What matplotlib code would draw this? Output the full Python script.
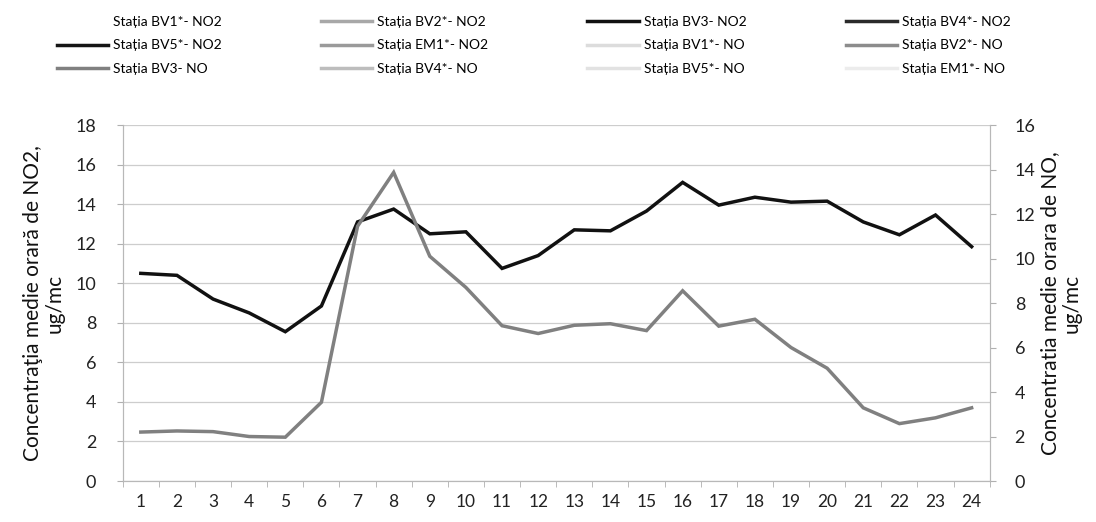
import matplotlib
matplotlib.use("Agg")
import matplotlib.pyplot as plt

plt.rcParams['font.family'] = ['Lato', 'DejaVu Sans']

# ore 1..24
hours = list(range(1, 25))

# Statia BV3 - singura cu date
bv3_no2 = [10.5, 10.4, 9.2, 8.5, 7.55, 8.85, 13.1, 13.75, 12.5, 12.6, 10.75, 11.4,
           12.7, 12.65, 13.65, 15.1, 13.95, 14.35, 14.1, 14.15, 13.1, 12.45, 13.45, 11.85]
bv3_no = [2.2, 2.25, 2.22, 2.0, 1.97, 3.54, 11.45, 13.87, 10.1, 8.7, 6.98, 6.63,
          7.0, 7.07, 6.76, 8.55, 6.96, 7.27, 6.0, 5.07, 3.29, 2.58, 2.84, 3.29]

stations = ['BV1*', 'BV2*', 'BV3', 'BV4*', 'BV5*', 'EM1*']
no2_data = {'BV3': bv3_no2}
no_data = {'BV3': bv3_no}

# culori din legenda (statiile fara date raman doar in legenda)
no2_colors = ['#ffffff', '#a8a8a8', '#111111', '#2a2a2a', '#151515', '#9a9a9a']
no_colors = ['#dcdcdc', '#8c8c8c', '#808080', '#bdbdbd', '#e2e2e2', '#ececec']

fig = plt.figure(figsize=(10.96, 5.22), dpi=100)
ax = fig.add_axes([0.112, 0.0785, 0.791, 0.682])
ax2 = ax.twinx()

handles, labels = [], []
for st, c in zip(stations, no2_colors):
    vals = no2_data.get(st, [])
    h, = ax.plot(hours[:len(vals)], vals, color=c, lw=2.5, solid_joinstyle='miter')
    handles.append(h)
    labels.append(f'Stația {st}- NO2')
for st, c in zip(stations, no_colors):
    vals = no_data.get(st, [])
    h, = ax2.plot(hours[:len(vals)], vals, color=c, lw=2.5, solid_joinstyle='miter')
    handles.append(h)
    labels.append(f'Stația {st}- NO')

ax.set_xlim(0.5, 24.5)
ax.set_ylim(0, 18)
ax.set_yticks(range(0, 19, 2))
ax2.set_ylim(0, 16)
ax2.set_yticks(range(0, 17, 2))

ax.set_xticks(hours)
ax.set_xticks([h + 0.5 for h in [0] + hours], minor=True)
ax.tick_params(axis='x', which='major', length=0, pad=9, labelsize=12.5, labelcolor='#222222')
ax.tick_params(axis='x', which='minor', length=4, color='#b0b0b0')
ax.tick_params(axis='y', length=4, color='#b0b0b0', labelsize=13, labelcolor='#222222', pad=15)
ax2.tick_params(axis='y', length=4, color='#b0b0b0', labelsize=13, labelcolor='#222222', pad=14)

ax.yaxis.grid(True, color='#cdcdcd', lw=0.9)
ax.set_axisbelow(True)
for a in (ax, ax2):
    a.spines['top'].set_visible(False)
    for s in ('left', 'right', 'bottom'):
        a.spines[s].set_color('#b8b8b8')

ax.set_ylabel('Concentraţia medie orară de NO2,\nug/mc', fontsize=15, color='#111111',
              labelpad=8, linespacing=1.1)
ax2.set_ylabel('Concentratia medie orara de NO,\nug/mc', fontsize=15, color='#111111',
               rotation=90, labelpad=3, linespacing=1.1)

# legenda pe randuri (matplotlib umple pe coloane)
ncol, nrow = 4, 3
order = [r * ncol + c for c in range(ncol) for r in range(nrow)]
fig.legend([handles[i] for i in order], [labels[i] for i in order],
           ncol=ncol, loc='upper left', bbox_to_anchor=(0.052, 0.97, 0.87, 0.0),
           mode='expand', frameon=False, fontsize=10, handlelength=3.7,
           handletextpad=0.35, labelspacing=0.85, borderaxespad=0, borderpad=0)

fig.savefig('out.png', dpi=100)
